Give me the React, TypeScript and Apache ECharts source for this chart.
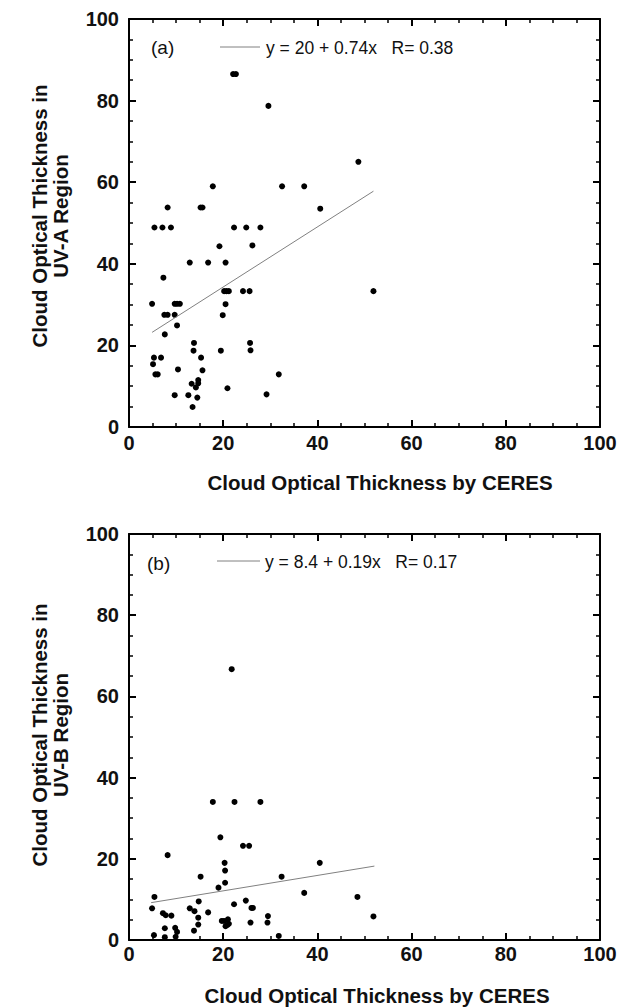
import React, { useEffect, useRef } from "react";
import * as echarts from "echarts";

// ---- Data ----
const xTicks = [0, 20, 40, 60, 80, 100];
const yTicks = [0, 20, 40, 60, 80, 100];

// Panel (a): CERES vs UV-A
const uvaX = [22.1, 22.7, 29.6, 48.7, 17.8, 32.5, 37.2, 8.2, 15.2, 15.6, 40.6, 5.4, 7.1, 8.9, 22.3, 24.9, 27.9, 19.2, 26.2, 12.9, 16.8, 20.5, 7.3, 20.2, 20.7, 21.2, 24.2, 25.6, 51.9, 4.9, 9.7, 10.2, 10.8, 20.5, 7.5, 8.2, 9.7, 19.9, 10.2, 7.6, 13.8, 25.7, 13.7, 19.5, 25.8, 5.3, 6.8, 15.3, 5.1, 5.6, 6.1, 10.4, 15.6, 31.8, 13.3, 14.2, 14.7, 14.7, 20.9, 9.7, 12.6, 14.5, 29.2, 13.5];
const uvaY = [86.5, 86.5, 78.7, 65.0, 59.0, 59.0, 59.0, 53.8, 53.8, 53.8, 53.5, 48.9, 48.9, 48.9, 48.9, 48.9, 48.9, 44.3, 44.5, 40.3, 40.3, 40.3, 36.6, 33.3, 33.3, 33.3, 33.3, 33.3, 33.3, 30.2, 30.2, 30.2, 30.2, 30.1, 27.5, 27.5, 27.5, 27.4, 24.9, 22.7, 20.6, 20.6, 18.7, 18.7, 18.8, 17.0, 17.0, 17.0, 15.4, 12.9, 12.9, 14.1, 13.9, 12.9, 10.6, 9.7, 10.7, 11.5, 9.5, 7.8, 7.8, 7.2, 8.0, 4.9];
const fitAX = [4.9, 51.9];
const fitAY = [23.2, 57.8];
const labelA = "(a)";
const legendA = "y = 20 + 0.74x   R= 0.38";

// Panel (b): CERES vs UV-B
const uvbX = [21.8, 17.8, 22.4, 27.9, 19.4, 24.2, 25.5, 8.2, 20.3, 40.5, 20.4, 15.2, 32.4, 20.4, 19.0, 37.2, 48.5, 5.4, 14.8, 24.8, 22.3, 4.9, 12.9, 13.9, 26.0, 26.3, 16.8, 7.2, 7.8, 9.0, 14.7, 29.5, 19.7, 20.2, 21.0, 20.9, 20.5, 21.2, 25.8, 29.4, 14.7, 51.9, 7.6, 9.8, 10.2, 13.8, 5.3, 7.6, 9.9, 31.8];
const uvbY = [66.7, 34.0, 34.0, 34.0, 25.3, 23.2, 23.2, 20.9, 19.0, 19.0, 17.1, 15.6, 15.6, 14.1, 12.9, 11.6, 10.6, 10.6, 9.5, 9.7, 8.8, 7.8, 7.8, 7.1, 7.9, 7.9, 6.8, 6.6, 6.1, 6.0, 5.5, 5.9, 4.7, 4.7, 5.1, 3.7, 3.4, 4.0, 4.3, 4.3, 3.8, 5.8, 2.9, 3.0, 2.0, 2.3, 1.2, 0.7, 0.8, 1.0];
const fitBX = [4.7, 52.1];
const fitBY = [9.2, 18.2];
const labelB = "(b)";
const legendB = "y = 8.4 + 0.19x   R= 0.17";

const xTitle = "Cloud Optical Thickness by CERES";
const yTitleA = "Cloud Optical Thickness in\nUV-A Region";
const yTitleB = "Cloud Optical Thickness in\nUV-B Region";

const FONT = '"Liberation Sans", Arial, Helvetica, sans-serif';

function zip(xs: number[], ys: number[]) {
  return xs.map((x, i) => [x, ys[i]]);
}

function valueAxis(kind: "x" | "y", gridIndex: number, position: string, showLabels: boolean, labelMargin: number) {
  const ticks = kind === "x" ? xTicks : yTicks;
  return {
    type: "value",
    gridIndex,
    position,
    min: ticks[0],
    max: ticks[ticks.length - 1],
    interval: ticks[1] - ticks[0],
    axisLine: { show: true, onZero: false, lineStyle: { color: "#000", width: 2 } },
    axisTick: { show: true, inside: true, length: 7, lineStyle: { color: "#000", width: 2 } },
    minorTick: { show: true, splitNumber: 4, length: 4, lineStyle: { color: "#000", width: 1.5 } },
    splitLine: { show: false },
    minorSplitLine: { show: false },
    axisLabel: {
      show: showLabels,
      margin: labelMargin,
      fontFamily: FONT,
      fontWeight: "bold",
      fontSize: 20,
      color: "#111",
    },
  };
}

export default function App() {
  const ref = useRef<HTMLDivElement>(null);

  useEffect(() => {
    if (!ref.current) return;
    const chart = echarts.init(ref.current, undefined, { renderer: "svg" });

    const gridA = { left: 129, top: 19, width: 471, height: 408 };
    const gridB = { left: 129, top: 534, width: 471, height: 406 };

    const textStyleBold = { fontFamily: FONT, fontWeight: "bold", fontSize: 20.5, fill: "#111" };
    const textStyleLegend = { fontFamily: FONT, fontSize: 17.5, fill: "#111" };

    const scatterStyle = { color: "#000", opacity: 1 };

    const option: any = {
      animation: false,
      backgroundColor: "#fff",
      grid: [
        { ...gridA, containLabel: false },
        { ...gridB, containLabel: false },
      ],
      xAxis: [
        valueAxis("x", 0, "bottom", true, 6),
        valueAxis("x", 0, "top", false, 6),
        valueAxis("x", 1, "bottom", true, 4),
        valueAxis("x", 1, "top", false, 4),
      ],
      yAxis: [
        valueAxis("y", 0, "left", true, 10),
        valueAxis("y", 0, "right", false, 10),
        valueAxis("y", 1, "left", true, 10),
        valueAxis("y", 1, "right", false, 10),
      ],
      series: [
        {
          type: "scatter",
          xAxisIndex: 0,
          yAxisIndex: 0,
          data: zip(uvaX, uvaY),
          symbol: "circle",
          symbolSize: 6,
          itemStyle: scatterStyle,
          clip: false,
        },
        {
          type: "line",
          xAxisIndex: 0,
          yAxisIndex: 0,
          data: zip(fitAX, fitAY),
          showSymbol: false,
          symbol: "none",
          lineStyle: { color: "#808080", width: 1 },
        },
        {
          type: "scatter",
          xAxisIndex: 2,
          yAxisIndex: 2,
          data: zip(uvbX, uvbY),
          symbol: "circle",
          symbolSize: 6,
          itemStyle: scatterStyle,
          clip: false,
        },
        {
          type: "line",
          xAxisIndex: 2,
          yAxisIndex: 2,
          data: zip(fitBX, fitBY),
          showSymbol: false,
          symbol: "none",
          lineStyle: { color: "#808080", width: 1 },
        },
      ],
      graphic: [
        // Panel (a)
        { type: "text", x: 151, y: 47, style: { ...textStyleLegend, fontSize: 19, text: labelA, verticalAlign: "middle" } },
        { type: "line", shape: { x1: 220, y1: 47, x2: 260, y2: 47 }, style: { stroke: "#808080", lineWidth: 1 } },
        { type: "text", x: 266, y: 48, style: { ...textStyleLegend, text: legendA, verticalAlign: "middle" } },
        { type: "text", x: 380, y: 482, style: { ...textStyleBold, text: xTitle, align: "center", verticalAlign: "middle" } },
        {
          type: "text",
          x: 50,
          y: 216,
          rotation: Math.PI / 2,
          style: { ...textStyleBold, text: yTitleA, align: "center", verticalAlign: "middle", lineHeight: 21 },
        },
        // Panel (b)
        { type: "text", x: 147, y: 563, style: { ...textStyleLegend, fontSize: 19, text: labelB, verticalAlign: "middle" } },
        { type: "line", shape: { x1: 217, y1: 561, x2: 260, y2: 561 }, style: { stroke: "#808080", lineWidth: 1 } },
        { type: "text", x: 265, y: 562, style: { ...textStyleLegend, text: legendB, verticalAlign: "middle" } },
        { type: "text", x: 377, y: 995, style: { ...textStyleBold, text: xTitle, align: "center", verticalAlign: "middle" } },
        {
          type: "text",
          x: 50,
          y: 735,
          rotation: Math.PI / 2,
          style: { ...textStyleBold, text: yTitleB, align: "center", verticalAlign: "middle", lineHeight: 21 },
        },
      ],
    };

    chart.setOption(option);
    return () => chart.dispose();
  }, []);

  return (
    <div
      ref={ref}
      style={{ position: "fixed", left: 0, top: 0, width: 620, height: 1008, background: "#fff" }}
    />
  );
}
